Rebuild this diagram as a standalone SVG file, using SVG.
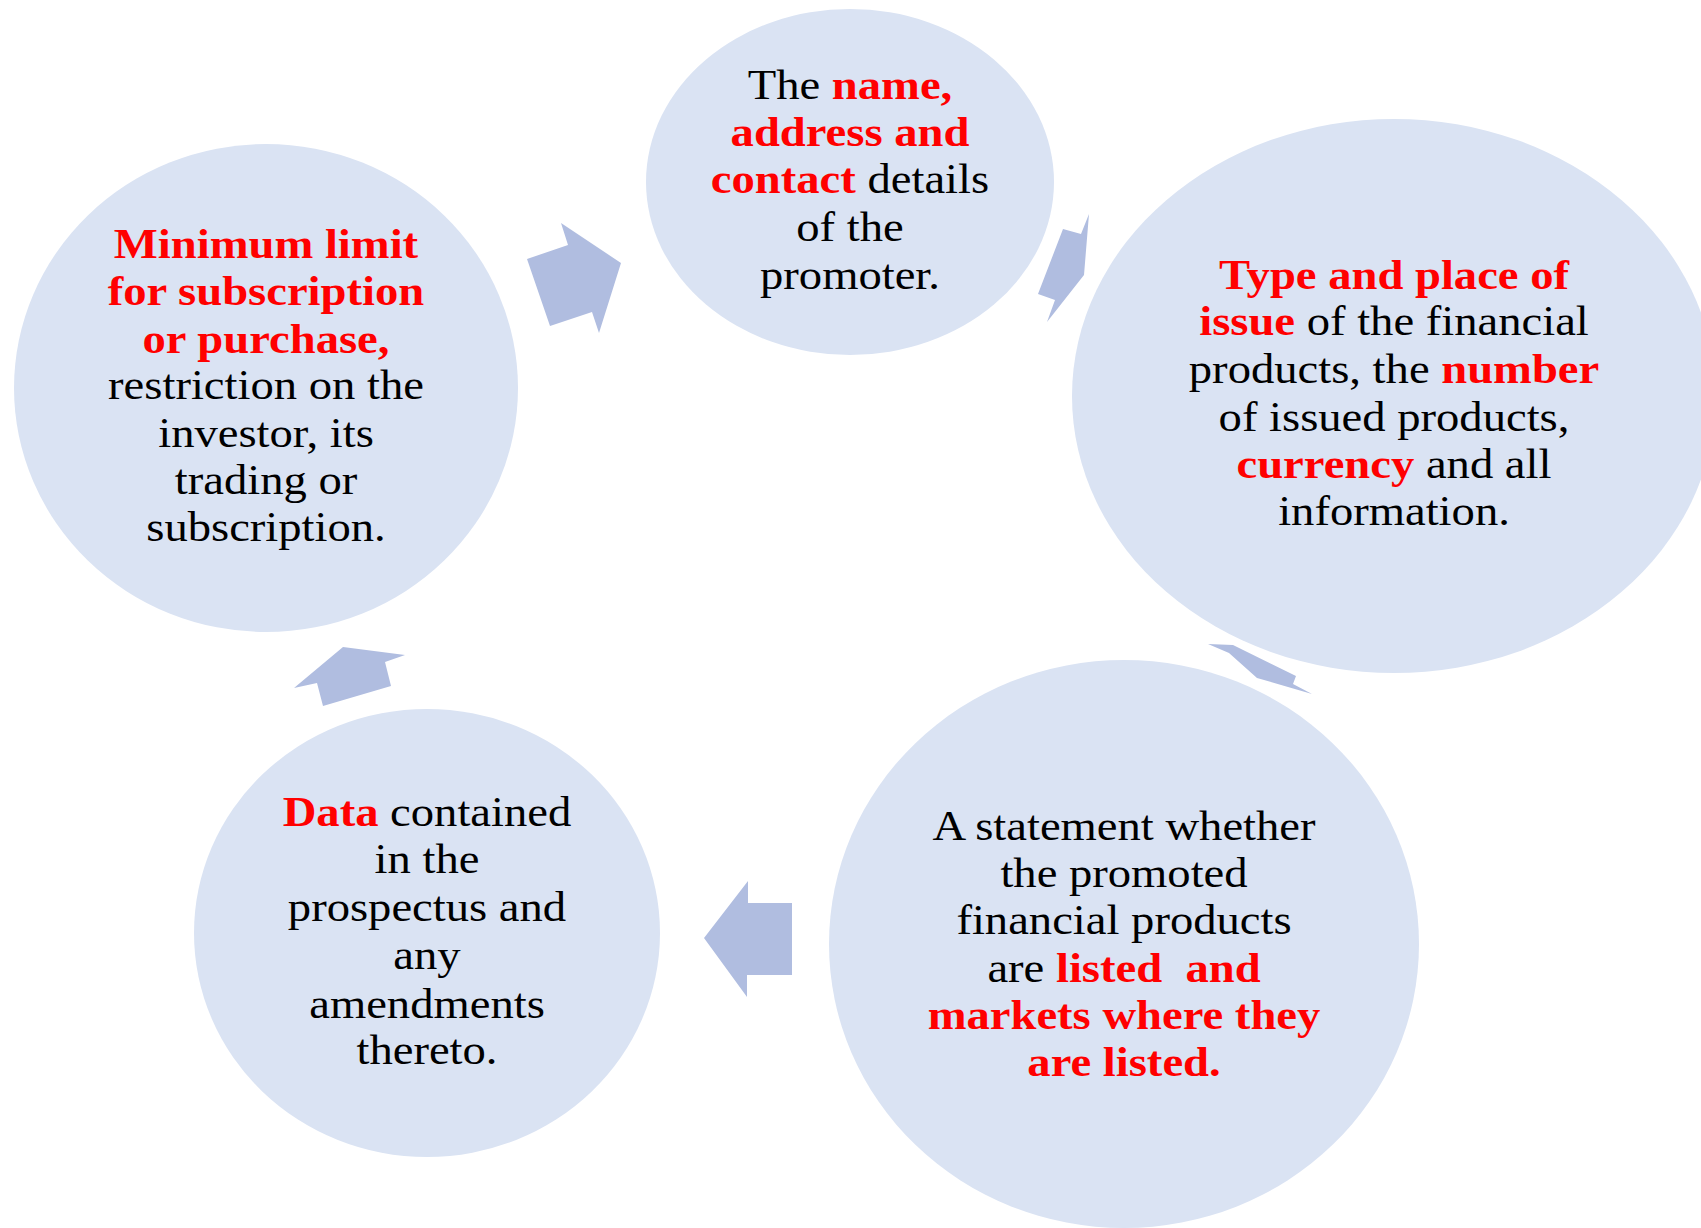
<svg xmlns="http://www.w3.org/2000/svg" width="1701" height="1228" viewBox="0 0 1701 1228">
<style>
.node{fill:#dae3f3}
.arr{fill:#b0bde0}
text{font-family:"Liberation Serif","Times New Roman",serif;font-size:42px;fill:#000;text-anchor:middle;white-space:pre}
.r{fill:#ff0000;font-weight:bold}
</style>
<rect width="1701" height="1228" fill="#fff"/>
<g id="connectors">
<polygon class="arr" points="527,259 568,245 561,223 621,263 599,333 592,312 550,326"/>
<polygon class="arr" points="1063,229 1081,234 1089,214 1084,275 1047,322 1055,300 1038,294"/>
<polygon class="arr" points="1208,644 1233,645 1296,676 1293,684 1312,694 1257,678 1229,653"/>
<polygon class="arr" points="748,881 748,903 792,903 792,975 747,975 747,997 704,938"/>
<polygon class="arr" points="294,688 343,647 405,655 385,662 391,686 323,706 317,683"/>
</g>
<g id="node-top">
<ellipse class="node" cx="850" cy="182" rx="204" ry="173"/>
<g transform="translate(850,0) scale(1.11,1) translate(-850,0)">
<text x="850" y="99">The <tspan class="r">name,</tspan></text>
<text x="850" y="146"><tspan class="r">address and</tspan></text>
<text x="850" y="193"><tspan class="r">contact</tspan> details</text>
<text x="850" y="241">of the</text>
<text x="850" y="289">promoter.</text>
</g>
</g>
<g id="node-right">
<ellipse class="node" cx="1394" cy="396" rx="322" ry="277"/>
<g transform="translate(1394,0) scale(1.11,1) translate(-1394,0)">
<text x="1394" y="289"><tspan class="r">Type and place of</tspan></text>
<text x="1394" y="335"><tspan class="r">issue</tspan> of the financial</text>
<text x="1394" y="383">products, the <tspan class="r">number</tspan></text>
<text x="1394" y="431">of issued products,</text>
<text x="1394" y="478"><tspan class="r">currency</tspan> and all</text>
<text x="1394" y="525">information.</text>
</g>
</g>
<g id="node-bottom-right">
<ellipse class="node" cx="1124" cy="944" rx="295" ry="284"/>
<g transform="translate(1124,0) scale(1.11,1) translate(-1124,0)">
<text x="1124" y="840">A statement whether</text>
<text x="1124" y="887">the promoted</text>
<text x="1124" y="934">financial products</text>
<text x="1124" y="982">are <tspan class="r">listed  and</tspan></text>
<text x="1124" y="1029"><tspan class="r">markets where they</tspan></text>
<text x="1124" y="1076"><tspan class="r">are listed.</tspan></text>
</g>
</g>
<g id="node-bottom-left">
<ellipse class="node" cx="427" cy="933" rx="233" ry="224"/>
<g transform="translate(427,0) scale(1.11,1) translate(-427,0)">
<text x="427" y="826"><tspan class="r">Data</tspan> contained</text>
<text x="427" y="873">in the</text>
<text x="427" y="921">prospectus and</text>
<text x="427" y="969">any</text>
<text x="427" y="1018">amendments</text>
<text x="427" y="1064">thereto.</text>
</g>
</g>
<g id="node-left">
<ellipse class="node" cx="266" cy="388" rx="252" ry="244"/>
<g transform="translate(266,0) scale(1.11,1) translate(-266,0)">
<text x="266" y="258"><tspan class="r">Minimum limit</tspan></text>
<text x="266" y="305"><tspan class="r">for subscription</tspan></text>
<text x="266" y="353"><tspan class="r">or purchase,</tspan></text>
<text x="266" y="399">restriction on the</text>
<text x="266" y="447">investor, its</text>
<text x="266" y="494">trading or</text>
<text x="266" y="541">subscription.</text>
</g>
</g>
</svg>
